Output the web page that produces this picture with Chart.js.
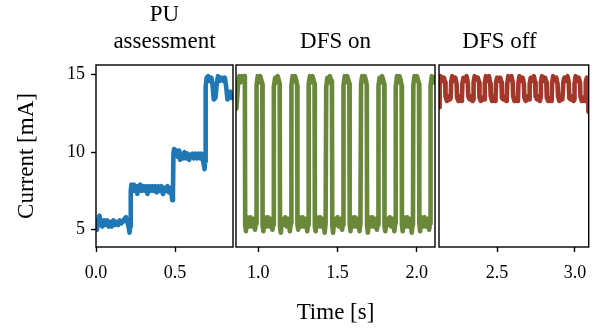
<!DOCTYPE html>
<html lang="en">
<head>
    <meta charset="UTF-8">
    <title>current_trace</title>
    <script src="https://cdn.jsdelivr.net/npm/chart.js"></script>
    <style>
        body { margin: 0; background: #fff; }
        #wrap { position: relative; width: 597px; height: 328px; }
        #wrap canvas { position: absolute; left: 0; top: 0; }
    </style>
</head>
<body>
<div id="wrap">
    <canvas id="pu" width="597" height="328"></canvas>
    <canvas id="dfsOn" width="597" height="328"></canvas>
    <canvas id="dfsOff" width="597" height="328"></canvas>
</div>
<script>
    // ---- data: [time s, current mA] ----
    const panelTitles = [['PU', 'assessment'], 'DFS on', 'DFS off'];
    const xRanges = [[0, 0.867], [0.859, 2.116], [2.127, 3.088]];
    const xTicks = [[0.0, 0.5], [1.0, 1.5, 2.0], [2.5, 3.0]];
    const yRange = [3.88, 15.62];
    const yTicks = [5, 10, 15];

    const puTrace = [
        [0.000,5.3],[0.006,5.0],[0.014,5.6],[0.022,5.9],[0.030,5.4],[0.040,5.2],[0.050,5.6],[0.060,5.3],
        [0.070,5.6],[0.080,5.2],[0.090,5.5],[0.100,5.2],[0.110,5.6],[0.120,5.3],[0.130,5.5],[0.140,5.3],
        [0.150,5.6],[0.160,5.4],[0.170,5.5],[0.180,5.7],[0.190,5.8],[0.198,5.5],[0.206,5.2],[0.212,4.8],
        [0.217,5.2],[0.220,7.5],[0.224,7.9],[0.232,7.5],[0.240,7.9],[0.248,7.5],[0.256,7.8],[0.262,7.3],
        [0.270,7.8],[0.280,7.9],[0.290,7.5],[0.300,7.8],[0.310,7.5],[0.318,7.8],[0.326,7.3],[0.334,7.8],
        [0.344,7.5],[0.354,7.8],[0.364,7.5],[0.374,7.8],[0.384,7.4],[0.394,7.8],[0.404,7.5],[0.414,7.8],
        [0.424,7.3],[0.432,7.7],[0.442,7.5],[0.452,7.8],[0.462,7.4],[0.470,7.7],[0.478,7.3],[0.483,6.9],
        [0.487,7.3],[0.490,9.9],[0.494,10.2],[0.502,9.8],[0.510,10.1],[0.518,9.7],[0.526,10.1],[0.532,9.5],
        [0.540,9.9],[0.550,9.6],[0.560,10.0],[0.570,9.6],[0.580,9.9],[0.590,9.5],[0.600,9.8],[0.610,9.9],
        [0.620,9.6],[0.630,9.9],[0.640,9.6],[0.650,9.9],[0.660,9.6],[0.668,9.9],[0.676,9.5],[0.682,9.2],
        [0.687,8.9],[0.691,9.4],[0.694,14.2],[0.700,14.8],[0.710,14.9],[0.720,14.6],[0.730,14.8],[0.738,14.3],
        [0.745,13.4],[0.756,13.5],[0.764,14.4],[0.772,14.9],[0.784,14.6],[0.796,14.8],[0.806,14.6],[0.816,14.8],
        [0.824,14.2],[0.832,13.4],[0.842,13.5],[0.850,13.9],[0.858,13.5],[0.866,13.6]
    ];

    const dfsOnTrace = [
        [0.862,12.8],[0.872,14.4],[0.880,14.9],[0.888,14.5],[0.896,14.9],[0.904,14.6],[0.910,14.9],[0.915,14.4],
        [0.917,5.3],[0.922,4.9],[0.930,5.8],[0.940,5.2],[0.950,5.8],[0.960,5.2],[0.970,5.7],[0.979,5.0],[0.985,5.5],
        [0.987,5.4],[0.989,14.3],[0.996,14.9],[1.004,14.5],[1.012,14.9],[1.020,14.6],[1.025,14.4],
        [1.027,5.3],[1.032,4.9],[1.040,5.8],[1.050,5.2],[1.060,5.8],[1.070,5.2],[1.080,5.7],[1.089,5.0],[1.095,5.5],
        [1.097,5.3],[1.099,14.2],[1.106,14.8],[1.114,14.5],[1.122,14.9],[1.130,14.6],[1.135,14.4],
        [1.137,5.2],[1.142,4.8],[1.150,5.7],[1.160,5.3],[1.170,5.8],[1.180,5.2],[1.190,5.7],[1.199,4.9],[1.205,5.4],
        [1.207,5.4],[1.209,14.3],[1.216,14.9],[1.224,14.6],[1.232,14.9],[1.240,14.6],[1.245,14.3],
        [1.247,5.3],[1.252,5.0],[1.260,5.8],[1.270,5.2],[1.280,5.8],[1.290,5.2],[1.300,5.7],[1.309,4.9],[1.315,5.5],
        [1.317,5.3],[1.319,14.4],[1.326,14.9],[1.334,14.5],[1.342,14.9],[1.350,14.6],[1.355,14.4],
        [1.357,5.2],[1.362,4.9],[1.370,5.8],[1.380,5.2],[1.390,5.8],[1.400,5.2],[1.410,5.7],[1.419,4.8],[1.425,5.4],
        [1.427,5.4],[1.429,14.2],[1.436,14.8],[1.444,14.5],[1.452,14.9],[1.460,14.6],[1.465,14.3],
        [1.467,5.3],[1.472,4.8],[1.480,5.7],[1.490,5.3],[1.500,5.8],[1.510,5.2],[1.520,5.7],[1.529,5.0],[1.535,5.5],
        [1.537,5.3],[1.539,14.3],[1.546,14.9],[1.554,14.5],[1.562,14.9],[1.570,14.6],[1.575,14.4],
        [1.577,5.4],[1.582,4.9],[1.590,5.8],[1.600,5.2],[1.610,5.8],[1.620,5.2],[1.630,5.7],[1.639,4.9],[1.645,5.4],
        [1.647,5.4],[1.649,14.4],[1.656,14.9],[1.664,14.6],[1.672,14.9],[1.680,14.6],[1.685,14.3],
        [1.687,5.3],[1.692,4.8],[1.700,5.8],[1.710,5.2],[1.720,5.8],[1.730,5.2],[1.740,5.7],[1.749,5.0],[1.755,5.5],
        [1.757,5.3],[1.759,14.3],[1.766,14.8],[1.774,14.5],[1.782,14.9],[1.790,14.6],[1.795,14.4],
        [1.797,5.2],[1.802,4.9],[1.810,5.7],[1.820,5.3],[1.830,5.8],[1.840,5.2],[1.850,5.7],[1.859,4.9],[1.865,5.4],
        [1.867,5.4],[1.869,14.2],[1.876,14.9],[1.884,14.5],[1.892,14.9],[1.900,14.6],[1.905,14.3],
        [1.907,5.3],[1.912,4.9],[1.920,5.8],[1.930,5.2],[1.940,5.8],[1.950,5.2],[1.960,5.7],[1.969,4.8],[1.975,5.5],
        [1.977,5.3],[1.979,14.3],[1.986,14.9],[1.994,14.6],[2.002,14.9],[2.010,14.6],[2.015,14.4],
        [2.017,5.4],[2.022,4.9],[2.030,5.8],[2.040,5.2],[2.050,5.8],[2.060,5.2],[2.070,5.7],[2.079,5.0],[2.085,5.5],
        [2.087,5.4],[2.089,14.3],[2.096,14.9],[2.104,14.5],[2.112,14.8],[2.118,14.5]
    ];

    const dfsOffTrace = [
        [2.127,12.9],[2.131,14.4],[2.138,14.9],[2.148,14.6],[2.158,14.8],[2.166,14.5],[2.169,13.6],[2.178,13.3],[2.188,13.6],[2.197,13.4],
        [2.202,13.5],[2.205,14.5],[2.212,14.9],[2.222,14.6],[2.232,14.8],[2.240,14.4],[2.243,13.5],[2.252,13.3],[2.262,13.6],[2.271,13.3],
        [2.274,13.4],[2.277,14.4],[2.284,14.8],[2.294,14.6],[2.304,14.9],[2.312,14.5],[2.315,13.6],[2.324,13.4],[2.334,13.6],[2.343,13.3],
        [2.346,13.4],[2.349,14.5],[2.356,14.9],[2.366,14.7],[2.376,14.8],[2.384,14.5],[2.387,13.5],[2.396,13.3],[2.406,13.5],[2.415,13.4],
        [2.418,13.4],[2.421,14.4],[2.428,14.9],[2.438,14.6],[2.448,14.9],[2.456,14.4],[2.459,13.6],[2.468,13.3],[2.478,13.6],[2.487,13.3],
        [2.490,13.5],[2.493,14.5],[2.500,14.8],[2.510,14.6],[2.520,14.8],[2.528,14.5],[2.531,13.5],[2.540,13.4],[2.550,13.6],[2.559,13.3],
        [2.562,13.4],[2.565,14.4],[2.572,14.9],[2.582,14.7],[2.592,14.9],[2.600,14.5],[2.603,13.6],[2.612,13.3],[2.622,13.5],[2.631,13.3],
        [2.634,13.4],[2.637,14.5],[2.644,14.9],[2.654,14.6],[2.664,14.8],[2.672,14.4],[2.675,13.5],[2.684,13.3],[2.694,13.6],[2.703,13.4],
        [2.706,13.4],[2.709,14.4],[2.716,14.8],[2.726,14.6],[2.736,14.9],[2.744,14.5],[2.747,13.6],[2.756,13.4],[2.766,13.6],[2.775,13.3],
        [2.778,13.5],[2.781,14.5],[2.788,14.9],[2.798,14.6],[2.808,14.8],[2.816,14.5],[2.819,13.5],[2.828,13.3],[2.838,13.5],[2.847,13.3],
        [2.850,13.4],[2.853,14.4],[2.860,14.9],[2.870,14.7],[2.880,14.8],[2.888,14.4],[2.891,13.6],[2.900,13.3],[2.910,13.6],[2.919,13.4],
        [2.922,13.4],[2.925,14.5],[2.932,14.8],[2.942,14.6],[2.952,14.9],[2.960,14.5],[2.963,13.5],[2.972,13.4],[2.982,13.6],[2.991,13.3],
        [2.994,13.4],[2.997,14.4],[3.004,14.9],[3.014,14.6],[3.024,14.8],[3.032,14.5],[3.035,13.6],[3.044,13.3],[3.054,13.5],[3.063,13.3],
        [3.066,13.4],[3.069,14.5],[3.076,14.8],[3.082,14.4],[3.086,12.6]
    ];

    const traces = [puTrace, dfsOnTrace, dfsOffTrace];
    const colors = ['#1f77b4', '#6a883a', '#a3382a'];

    // ---- layout (pixels) ----
    const W = 597, H = 328;
    const plotTop = 65, plotBottom = 247;
    const panelX = [[96, 233], [236, 435], [439, 592]];
    const titleShift = [0, 0, 5];   // trailing nbsp's: the 3rd title sits left of centre
    const serif = "'Liberation Serif', 'DejaVu Serif', serif";
    const bigFont = { family: serif, size: 23, weight: 'normal', lineHeight: 1.15 };
    const tickFont = { family: serif, size: 18, weight: 'normal', lineHeight: 1.2 };

    // draw the black box round each panel
    const frame = {
        id: 'frame',
        afterDraw(chart) {
            const a = chart.chartArea, ctx = chart.ctx;
            ctx.save();
            ctx.strokeStyle = '#000';
            ctx.lineWidth = 1.4;
            ctx.strokeRect(a.left, a.top, a.right - a.left, a.bottom - a.top);
            ctx.restore();
        }
    };

    function makePanel(id, i) {
        const [left, right] = panelX[i];
        const first = i === 0;
        const title = Array.isArray(panelTitles[i]) ? panelTitles[i]
                    : panelTitles[i] + '\u00a0'.repeat(titleShift[i]);
        const tickGrid = { drawOnChartArea: false, drawTicks: true, tickLength: 5, tickWidth: 1.4, tickColor: '#000' };
        return new Chart(document.getElementById(id), {
            type: 'line',
            data: {
                datasets: [{
                    data: traces[i].map(p => ({ x: p[0], y: p[1] })),
                    borderColor: colors[i],
                    borderWidth: 4.6,
                    pointRadius: 0,
                    tension: 0,
                    clip: 0,
                    borderJoinStyle: 'round',
                    borderCapStyle: 'round'
                }]
            },
            options: {
                responsive: false,
                animation: false,
                devicePixelRatio: 1,
                layout: { padding: { left: first ? 0 : left, right: W - right, top: 0, bottom: 0 } },
                plugins: {
                    legend: { display: false },
                    tooltip: { enabled: false },
                    title: {
                        display: true,
                        text: title,
                        fullSize: false,
                        color: '#000',
                        font: bigFont,
                        padding: { top: first ? 1.8 : 28.25, bottom: 10.3 }
                    }
                },
                scales: {
                    x: {
                        type: 'linear',
                        min: xRanges[i][0],
                        max: xRanges[i][1],
                        afterFit: s => { s.height = H - plotBottom; },
                        afterBuildTicks: s => { s.ticks = xTicks[i].map(v => ({ value: v })); },
                        ticks: { color: '#000', font: tickFont, padding: 10, maxRotation: 0, autoSkip: false,
                                 callback: v => v.toFixed(1) },
                        grid: tickGrid,
                        border: { display: false },
                        title: {
                            display: i === 1,
                            text: 'Time [s]',
                            color: '#000',
                            font: bigFont,
                            padding: { top: 0, bottom: 1.8 }
                        }
                    },
                    y: {
                        display: first,
                        min: yRange[0],
                        max: yRange[1],
                        afterFit: s => { if (first) s.width = left; },
                        afterBuildTicks: s => { s.ticks = yTicks.map(v => ({ value: v })); },
                        ticks: { color: '#000', font: tickFont, padding: 6, callback: v => String(v) },
                        grid: tickGrid,
                        border: { display: false },
                        title: {
                            display: true,
                            text: 'Current [mA]',
                            color: '#000',
                            font: bigFont,
                            padding: { top: 13.5, bottom: 0 }
                        }
                    }
                }
            },
            plugins: [frame]
        });
    }

    makePanel('pu', 0);
    makePanel('dfsOn', 1);
    makePanel('dfsOff', 2);
</script>
</body>
</html>
